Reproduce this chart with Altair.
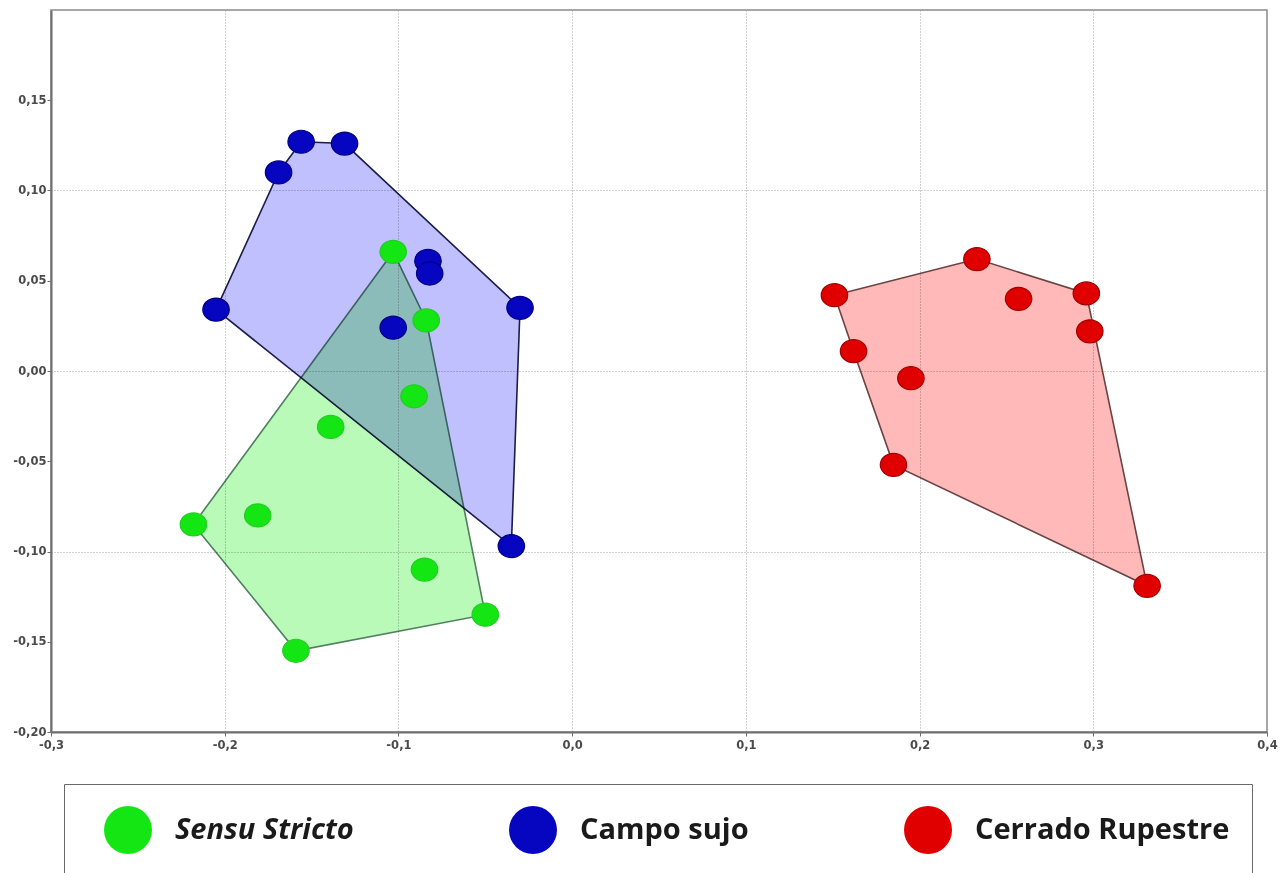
import altair as alt
import pandas as pd

# Ordination scores per vegetation type
groups = ["Sensu Stricto", "Campo sujo", "Cerrado Rupestre"]

sensu_x = [-0.103, -0.084, -0.091, -0.139, -0.218, -0.181, -0.085, -0.050, -0.159]
sensu_y = [0.066, 0.028, -0.014, -0.031, -0.085, -0.080, -0.110, -0.135, -0.155]

campo_x = [-0.205, -0.169, -0.156, -0.131, -0.083, -0.082, -0.103, -0.030, -0.035]
campo_y = [0.034, 0.110, 0.127, 0.126, 0.061, 0.054, 0.024, 0.035, -0.097]

rupestre_x = [0.151, 0.233, 0.257, 0.296, 0.298, 0.162, 0.195, 0.185, 0.331]
rupestre_y = [0.042, 0.062, 0.040, 0.043, 0.022, 0.011, -0.004, -0.052, -0.119]

x_ticks = [-0.3, -0.2, -0.1, 0.0, 0.1, 0.2, 0.3, 0.4]
y_ticks = [-0.20, -0.15, -0.10, -0.05, 0.00, 0.05, 0.10, 0.15]

point_fill = ["#14e614", "#0606c0", "#e00000"]
point_edge = ["#22cc22", "#000080", "#a00000"]
hull_fill = ["#b9fab9", "#c0c0ff", "#ffb9b9"]
hull_edge = ["#4f7f5f", "#1c1c4c", "#6a4444"]

coords = {
    "Sensu Stricto": (sensu_x, sensu_y),
    "Campo sujo": (campo_x, campo_y),
    "Cerrado Rupestre": (rupestre_x, rupestre_y),
}


def convex_hull(pts):
    pts = sorted(set(pts))
    if len(pts) <= 2:
        return pts

    def cross(o, a, b):
        return (a[0] - o[0]) * (b[1] - o[1]) - (a[1] - o[1]) * (b[0] - o[0])

    lower, upper = [], []
    for p in pts:
        while len(lower) >= 2 and cross(lower[-2], lower[-1], p) <= 0:
            lower.pop()
        lower.append(p)
    for p in reversed(pts):
        while len(upper) >= 2 and cross(upper[-2], upper[-1], p) <= 0:
            upper.pop()
        upper.append(p)
    return lower[:-1] + upper[:-1]


point_rows, hull_rows = [], []
for g in groups:
    xs, ys = coords[g]
    for xv, yv in zip(xs, ys):
        point_rows.append({"group": g, "x": xv, "y": yv})
    hull = convex_hull(list(zip(xs, ys)))
    hull = hull + [hull[0]]  # close the outline
    for i, (xv, yv) in enumerate(hull):
        hull_rows.append({"group": g, "x": xv, "y": yv, "idx": i})

points = pd.DataFrame(point_rows)
hulls = pd.DataFrame(hull_rows)

tick_font = "DejaVu Sans"
label_expr_x = "replace(replace(format(datum.value, '.1f'), '.', ','), '\u2212', '-')"
label_expr_y = "replace(replace(format(datum.value, '.2f'), '.', ','), '\u2212', '-')"

x_enc = alt.X(
    "x:Q",
    scale=alt.Scale(domain=[-0.3, 0.4], nice=False, zero=False),
    axis=alt.Axis(
        values=x_ticks, labelExpr=label_expr_x, title=None,
        grid=True, gridDash=[1, 2], gridColor="#a0a0a0",
        domainColor="#6e6e6e", domainWidth=2, tickColor="#6e6e6e", tickSize=4,
        labelFont=tick_font, labelFontSize=11.5, labelFontWeight="bold",
        labelColor="#4a4a4a", labelPadding=3, labelFlush=False, labelOverlap=False,
    ),
)
y_enc = alt.Y(
    "y:Q",
    scale=alt.Scale(domain=[-0.2, 0.2], nice=False, zero=False),
    axis=alt.Axis(
        values=y_ticks, labelExpr=label_expr_y, title=None,
        grid=True, gridDash=[1, 2], gridColor="#a0a0a0",
        gridOpacity=alt.condition("abs(round(datum.value * 100)) % 10 == 0",
                                  alt.value(1), alt.value(0)),
        domainColor="#6e6e6e", domainWidth=2, tickColor="#6e6e6e", tickSize=4,
        labelFont=tick_font, labelFontSize=11.5, labelFontWeight="bold",
        labelColor="#4a4a4a", labelPadding=1, labelFlush=False, labelOverlap=False,
    ),
)

hull_layers = []
for g, fc, ec in zip(groups, hull_fill, hull_edge):
    hull_layers.append(
        alt.Chart(hulls)
        .transform_filter(alt.datum.group == g)
        .mark_line(fill=fc, stroke=ec, strokeWidth=1.6, blend="multiply")
        .encode(x=x_enc, y=y_enc, order="idx:Q")
    )

ellipse = "M -1 0 A 1 0.87 0 1 1 1 0 A 1 0.87 0 1 1 -1 0 Z"

point_layer = (
    alt.Chart(points)
    .mark_point(filled=True, size=700, opacity=1, strokeWidth=1.2)
    .encode(
        x=x_enc,
        y=y_enc,
        shape=alt.value(ellipse),
        fill=alt.Fill(
            "group:N",
            scale=alt.Scale(domain=groups, range=point_fill),
            legend=alt.Legend(
                title=None, orient="none", legendX=13, legendY=774,
                direction="horizontal", padding=22, fillColor="white",
                strokeColor="#6a6a6a", symbolType="circle", symbolSize=2304,
                symbolStrokeWidth=0, symbolOffset=18, labelOffset=23,
                columnPadding=137, labelFont="Open Sans", labelFontSize=29,
                labelFontWeight="bold", labelColor="#1a1a1a", labelLimit=500,
                labelFontStyle={"expr": "datum.label == 'Sensu Stricto' ? 'italic' : 'normal'"},
            ),
        ),
        stroke=alt.Stroke("group:N", scale=alt.Scale(domain=groups, range=point_edge), legend=None),
    )
)

chart = (
    alt.layer(*hull_layers, point_layer)
    .properties(
        width=1216, height=722,
        autosize=alt.AutoSizeParams(type="none"),
        padding={"left": 51, "top": 10, "right": 20, "bottom": 141},
        background="white",
    )
    .configure_view(stroke="#8a8a8a", strokeWidth=1.5)
)

chart.save("out.html", embed_options={"renderer": "svg", "actions": False})
